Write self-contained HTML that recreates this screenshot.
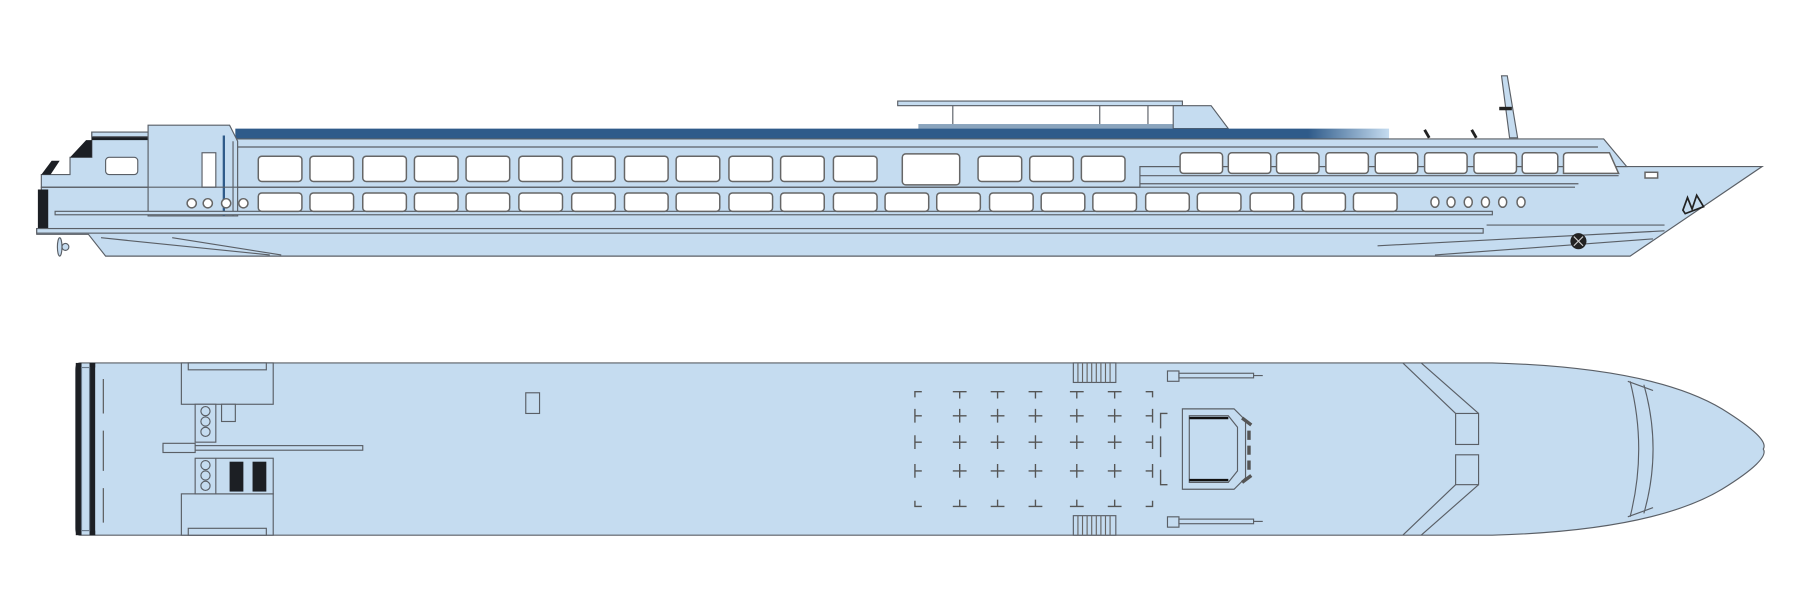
<!DOCTYPE html>
<html><head><meta charset="utf-8"><style>html,body{margin:0;padding:0;background:#fff}svg{display:block}</style></head>
<body>
<svg width="1800" height="611" viewBox="0 0 1568 532" preserveAspectRatio="none" xmlns="http://www.w3.org/2000/svg">
<defs>
<linearGradient id="roof" x1="0" x2="1" y1="0" y2="0">
<stop offset="0" stop-color="#2f5b8a"/><stop offset="0.93" stop-color="#2f5b8a"/><stop offset="1" stop-color="#c5dcf0"/>
</linearGradient>
</defs>
<g stroke="#5a5f66" stroke-width="1" fill="#c5dcf0">
<!-- canopy -->
<rect x="782" y="88" width="248" height="4"/>
<line x1="830" y1="92" x2="830" y2="113"/><line x1="958" y1="92" x2="958" y2="113"/><line x1="1000" y1="92" x2="1000" y2="113"/>
<rect x="800" y="108" width="225" height="5" fill="#8aa4bd" stroke="none"/>
<polygon points="1022,92 1055,92 1070,112 1022,112"/>
<!-- mast -->
<polygon points="1308,66 1313,66 1322,120 1315,120"/>
<rect x="1306" y="93" width="11" height="3" fill="#222" stroke="none"/>
<!-- roof band -->
<rect x="205" y="112" width="1005" height="9" fill="url(#roof)" stroke="none"/>
<path d="M1241,113 L1245,120 M1282,113 L1286,120" stroke="#222" stroke-width="2.5"/>
<!-- hull -->
<polygon points="36,163 993,163 993,145 1535,145 1420,223 92,223 77,204 32,204 32,199 36,199"/>
<line x1="32" y1="200" x2="1290" y2="200"/>
<line x1="88" y1="207" x2="235" y2="222"/><line x1="150" y1="207" x2="245" y2="222"/>
<line x1="1200" y1="214" x2="1450" y2="201"/><line x1="1250" y1="222" x2="1440" y2="208"/>
<line x1="1295" y1="196" x2="1450" y2="196"/>
<!-- superstructure -->
<polygon points="205,121 1397,121 1417,145 993,145 993,163 205,163"/>
<line x1="205" y1="128" x2="1392" y2="128"/>
<line x1="993" y1="153" x2="1410" y2="153"/>
<line x1="993" y1="160" x2="1375" y2="160"/>
<!-- stern block -->
<polygon points="36,152 61,152 61,137 80,137 80,115 135,115 135,163 36,163" />
<polygon points="61,137 75,122 80,122 80,137" fill="#1c1f24" stroke="none"/>
<polygon points="36,152 45,140 52,140 44,152" fill="#1c1f24" stroke="none"/>
<rect x="80" y="115" width="55" height="7" fill="#1c1f24" stroke="none"/>
<rect x="80" y="115" width="55" height="4"/>
<rect x="92" y="137" width="28" height="15" rx="3" fill="#fff"/>
<polygon points="129,109 200,109 207,123 207,188 129,188"/>
<rect x="176" y="133" width="12" height="30" fill="#fff"/>
<line x1="195" y1="118" x2="195" y2="188" stroke="#2f5b8a" stroke-width="2"/>
<line x1="203" y1="123" x2="203" y2="188"/>
<rect x="33" y="165" width="9" height="34" fill="#1c1f24" stroke="none"/>
<line x1="36" y1="163" x2="1372" y2="163"/>
<rect x="48" y="184" width="1252" height="3"/>
<rect x="32" y="199" width="1260" height="4"/>
<!-- windows upper -->
<g fill="#fff" stroke="#666" stroke-width="1.3">
<rect x="225" y="136" width="38" height="22" rx="3"/><rect x="270" y="136" width="38" height="22" rx="3"/>
<rect x="316" y="136" width="38" height="22" rx="3"/><rect x="361" y="136" width="38" height="22" rx="3"/>
<rect x="406" y="136" width="38" height="22" rx="3"/><rect x="452" y="136" width="38" height="22" rx="3"/>
<rect x="498" y="136" width="38" height="22" rx="3"/><rect x="544" y="136" width="38" height="22" rx="3"/>
<rect x="589" y="136" width="38" height="22" rx="3"/><rect x="635" y="136" width="38" height="22" rx="3"/>
<rect x="680" y="136" width="38" height="22" rx="3"/><rect x="726" y="136" width="38" height="22" rx="3"/>
<rect x="786" y="134" width="50" height="27" rx="3"/>
<rect x="852" y="136" width="38" height="22" rx="3"/><rect x="897" y="136" width="38" height="22" rx="3"/>
<rect x="942" y="136" width="38" height="22" rx="3"/>
<rect x="1028" y="133" width="37" height="18" rx="3"/><rect x="1070" y="133" width="37" height="18" rx="3"/>
<rect x="1112" y="133" width="37" height="18" rx="3"/><rect x="1155" y="133" width="37" height="18" rx="3"/>
<rect x="1198" y="133" width="37" height="18" rx="3"/><rect x="1241" y="133" width="37" height="18" rx="3"/>
<rect x="1284" y="133" width="37" height="18" rx="3"/><rect x="1326" y="133" width="31" height="18" rx="3"/>
<path d="M1362,151 L1362,136 Q1362,133 1366,133 L1402,133 L1410,151 Z"/>
<!-- lower -->
<rect x="225" y="168" width="38" height="16" rx="3"/><rect x="270" y="168" width="38" height="16" rx="3"/>
<rect x="316" y="168" width="38" height="16" rx="3"/><rect x="361" y="168" width="38" height="16" rx="3"/>
<rect x="406" y="168" width="38" height="16" rx="3"/><rect x="452" y="168" width="38" height="16" rx="3"/>
<rect x="498" y="168" width="38" height="16" rx="3"/><rect x="544" y="168" width="38" height="16" rx="3"/>
<rect x="589" y="168" width="38" height="16" rx="3"/><rect x="635" y="168" width="38" height="16" rx="3"/>
<rect x="680" y="168" width="38" height="16" rx="3"/><rect x="726" y="168" width="38" height="16" rx="3"/>
<rect x="771" y="168" width="38" height="16" rx="3"/><rect x="816" y="168" width="38" height="16" rx="3"/>
<rect x="862" y="168" width="38" height="16" rx="3"/><rect x="907" y="168" width="38" height="16" rx="3"/>
<rect x="952" y="168" width="38" height="16" rx="3"/><rect x="998" y="168" width="38" height="16" rx="3"/>
<rect x="1043" y="168" width="38" height="16" rx="3"/><rect x="1089" y="168" width="38" height="16" rx="3"/>
<rect x="1134" y="168" width="38" height="16" rx="3"/><rect x="1179" y="168" width="38" height="16" rx="3"/>
<circle cx="167" cy="177" r="4"/><circle cx="181" cy="177" r="4"/><circle cx="197" cy="177" r="4"/><circle cx="212" cy="177" r="4"/>
<ellipse cx="1250" cy="176" rx="3.5" ry="4.5"/><ellipse cx="1264" cy="176" rx="3.5" ry="4.5"/><ellipse cx="1279" cy="176" rx="3.5" ry="4.5"/>
<ellipse cx="1294" cy="176" rx="3.5" ry="4.5"/><ellipse cx="1309" cy="176" rx="3.5" ry="4.5"/><ellipse cx="1325" cy="176" rx="3.5" ry="4.5"/>
<rect x="1433" y="150" width="11" height="5"/>
</g>
<!-- anchor, thruster, propeller -->
<path d="M1466,183 L1470,172 L1474,182 L1478,170 L1484,180 L1468,186 Z" fill="none" stroke="#222" stroke-width="1.5"/>
<circle cx="1375" cy="210" r="7" fill="#222" stroke="none"/>
<path d="M1371,206 L1379,214 M1379,206 L1371,214" stroke="#ccc"/>
<ellipse cx="52" cy="215" rx="2" ry="8" fill="#c5dcf0"/>
<circle cx="57" cy="215" r="3" fill="#c5dcf0"/>

<!-- PLAN VIEW -->
<path d="M70,316 L1300,316 Q1440,320 1500,356 Q1542,382 1536,391 Q1542,400 1500,426 Q1440,462 1300,466 L70,466 Q66,466 66,460 L66,322 Q66,316 70,316 Z"/>
<rect x="66" y="316" width="5" height="150" fill="#1c1f24" stroke="none"/>
<rect x="78" y="316" width="5" height="150" fill="#1c1f24" stroke="none"/>
<rect x="71" y="320" width="7" height="142" stroke="#6a7a8a"/>
<rect x="83" y="320" width="12" height="142" stroke="none"/>
<path d="M90,330 V360 M90,375 V410 M90,425 V455" stroke="#555"/>
<rect x="158" y="316" width="80" height="36"/>
<rect x="164" y="316" width="68" height="6"/>
<rect x="158" y="430" width="80" height="36"/>
<rect x="164" y="460" width="68" height="6"/>
<rect x="170" y="352" width="18" height="33"/>
<circle cx="179" cy="358" r="4"/><circle cx="179" cy="367" r="4"/><circle cx="179" cy="376" r="4"/>
<rect x="193" y="352" width="12" height="15"/>
<rect x="170" y="399" width="68" height="31"/>
<line x1="188" y1="399" x2="188" y2="430"/>
<circle cx="179" cy="405" r="4"/><circle cx="179" cy="414" r="4"/><circle cx="179" cy="423" r="4"/>
<rect x="200" y="402" width="12" height="26" fill="#1c1f24" stroke="none"/>
<rect x="220" y="402" width="12" height="26" fill="#1c1f24" stroke="none"/>
<rect x="142" y="388" width="174" height="4"/>
<rect x="142" y="386" width="28" height="8"/>
<rect x="458" y="342" width="12" height="18"/>
<!-- stairs -->
<rect x="935" y="316" width="37" height="17"/><rect x="935" y="449" width="37" height="17"/>
<path d="M939,316V333M943,316V333M947,316V333M951,316V333M955,316V333M959,316V333M963,316V333M967,316V333M939,449V466M943,449V466M947,449V466M951,449V466M955,449V466M959,449V466M963,449V466M967,449V466" stroke="#666"/>
<!-- grid -->
<g fill="none" stroke="#555" stroke-width="1.2">
<path d="M797,346V341H803 M1004,346V341H998 M797,436V441H803 M1004,436V441H998"/>
<path d="M830,341H842M836,341V347 M863,341H875M869,341V347 M896,341H908M902,341V347 M932,341H944M938,341V347 M965,341H977M971,341V347"/>
<path d="M830,441H842M836,441V435 M863,441H875M869,441V435 M896,441H908M902,441V435 M932,441H944M938,441V435 M965,441H977M971,441V435"/>
<path d="M797,356V368M797,362H803 M797,379V391M797,385H803 M797,404V416M797,410H803"/>
<path d="M1004,356V368M1004,362H998 M1004,379V391M1004,385H998 M1004,404V416M1004,410H998"/>
<path d="M830,362H842M836,356V368 M863,362H875M869,356V368 M896,362H908M902,356V368 M932,362H944M938,356V368 M965,362H977M971,356V368"/>
<path d="M830,385H842M836,379V391 M863,385H875M869,379V391 M896,385H908M902,379V391 M932,385H944M938,379V391 M965,385H977M971,379V391"/>
<path d="M830,410H842M836,404V416 M863,410H875M869,404V416 M896,410H908M902,404V416 M932,410H944M938,404V416 M965,410H977M971,404V416"/>
<path d="M1017,360H1011V373 M1017,422H1011V409 M1011,380V398"/>
</g>
<!-- deck house -->
<path d="M1030,356 H1075 L1085,366 V416 L1075,426 H1030 Z"/>
<path d="M1036,362 H1070 L1078,372 V410 L1070,420 H1036 Z"/>
<line x1="1036" y1="364" x2="1070" y2="364" stroke="#111" stroke-width="2"/>
<line x1="1036" y1="418" x2="1070" y2="418" stroke="#111" stroke-width="2"/>
<path d="M1082,364 L1090,370 M1088,375V383 M1088,388V396 M1088,401V409 M1082,420 L1090,414" stroke="#555" stroke-width="3"/>
<!-- winches -->
<rect x="1017" y="323" width="10" height="9"/><rect x="1027" y="325" width="65" height="4"/><line x1="1092" y1="327" x2="1100" y2="327"/>
<rect x="1017" y="450" width="10" height="9"/><rect x="1027" y="452" width="65" height="4"/><line x1="1092" y1="454" x2="1100" y2="454"/>
<!-- bow V -->
<g fill="none">
<path d="M1222,316 L1268,360 M1238,316 L1288,360"/>
<path d="M1222,466 L1268,422 M1238,466 L1288,422"/>
</g>
<rect x="1268" y="360" width="20" height="27"/>
<rect x="1268" y="396" width="20" height="26"/>
<path d="M1420,332 Q1435,391 1420,450 M1432,335 Q1448,391 1432,447" fill="none"/>
<path d="M1418,332 L1440,340 M1418,450 L1440,442" fill="none"/>
</g>
</svg>
</body></html>
